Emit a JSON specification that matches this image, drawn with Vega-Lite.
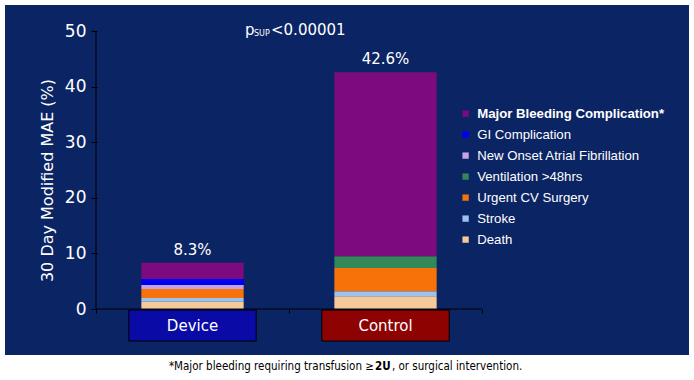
{
  "$schema": "https://vega.github.io/schema/vega-lite/v6.json",
  "width": 684,
  "height": 350,
  "background": "white",
  "config": {
    "view": {"fill": "#0B2463", "stroke": null},
    "font": "DejaVu Sans"
  },
  "datasets": {
    "mae": [
      {"group": "Device", "cause": "Death", "rank": 1, "value": 1.3},
      {"group": "Device", "cause": "Stroke", "rank": 2, "value": 0.7},
      {"group": "Device", "cause": "Urgent CV Surgery", "rank": 3, "value": 1.6},
      {"group": "Device", "cause": "Ventilation >48hrs", "rank": 4, "value": 0},
      {"group": "Device", "cause": "New Onset Atrial Fibrillation", "rank": 5, "value": 0.7},
      {"group": "Device", "cause": "GI Complication", "rank": 6, "value": 1.1},
      {"group": "Device", "cause": "Major Bleeding Complication*", "rank": 7, "value": 2.9},
      {"group": "Control", "cause": "Death", "rank": 1, "value": 2.3},
      {"group": "Control", "cause": "Stroke", "rank": 2, "value": 0.9},
      {"group": "Control", "cause": "Urgent CV Surgery", "rank": 3, "value": 4.2},
      {"group": "Control", "cause": "Ventilation >48hrs", "rank": 4, "value": 2.1},
      {"group": "Control", "cause": "New Onset Atrial Fibrillation", "rank": 5, "value": 0},
      {"group": "Control", "cause": "GI Complication", "rank": 6, "value": 0},
      {"group": "Control", "cause": "Major Bleeding Complication*", "rank": 7, "value": 33.1}
    ],
    "totals": [
      {"group": "Device", "total": 8.3, "label": "8.3%"},
      {"group": "Control", "total": 42.6, "label": "42.6%"}
    ]
  },
  "encoding": {
    "x": {
      "field": "group",
      "type": "nominal",
      "sort": ["Device", "Control"],
      "scale": {"type": "band", "domain": ["Device", "Control"], "paddingInner": 0, "paddingOuter": 0.772, "align": 0.3054},
      "axis": {"title": null, "labels": false, "domain": false, "ticks": true, "tickBand": "extent", "tickSize": 4, "tickColor": "#000000", "offset": -46, "grid": false}
    }
  },
  "layer": [
    {
      "data": {"name": "mae"},
      "mark": {"type": "bar", "width": {"band": 0.53}},
      "encoding": {
        "y": {
          "field": "value",
          "type": "quantitative",
          "aggregate": "sum",
          "stack": "zero",
          "scale": {"domain": [-8.27, 54.68], "nice": false, "zero": false},
          "axis": {
            "values": [0, 10, 20, 30, 40, 50],
            "offset": -92,
            "domain": false,
            "grid": false,
            "tickSize": 6,
            "tickColor": "#000000",
            "labelColor": "white",
            "labelFontSize": 17,
            "labelPadding": 5,
            "title": "30 Day Modified MAE (%)",
            "titleColor": "white",
            "titleFontSize": 16,
            "titleFontWeight": "normal",
            "titlePadding": 9
          }
        },
        "color": {
          "field": "cause",
          "type": "nominal",
          "scale": {
            "domain": ["Major Bleeding Complication*", "GI Complication", "New Onset Atrial Fibrillation", "Ventilation >48hrs", "Urgent CV Surgery", "Stroke", "Death"],
            "range": ["#7E0A80", "#0000F0", "#C6A2E4", "#33885A", "#F8720A", "#9CC3EE", "#F6C99B"]
          },
          "legend": {
            "title": null,
            "orient": "none",
            "legendX": 454,
            "legendY": 102,
            "padding": 0,
            "symbolType": "square",
            "symbolSize": 40,
            "symbolStrokeWidth": 0,
            "labelColor": "white",
            "labelFont": "Liberation Sans",
            "labelFontSize": 13.2,
            "labelOffset": 5,
            "labelLimit": 400,
            "rowPadding": 7,
            "labelFontWeight": {"expr": "datum.value == 'Major Bleeding Complication*' ? 'bold' : 'normal'"}
          }
        },
        "order": {"field": "rank", "type": "quantitative", "sort": "ascending"}
      }
    },
    {
      "data": {"name": "totals"},
      "mark": {"type": "text", "color": "white", "fontSize": 15, "baseline": "bottom", "dy": -5},
      "encoding": {
        "y": {"field": "total", "type": "quantitative"},
        "text": {"field": "label"}
      }
    },
    {
      "data": {"name": "totals"},
      "mark": {"type": "bar", "width": {"band": 0.66}, "stroke": "#000000", "strokeWidth": 1},
      "encoding": {
        "y": {"datum": -0.18},
        "y2": {"datum": -5.76},
        "fill": {"condition": {"test": "datum.group == 'Device'", "value": "#0A0AA6"}, "value": "#8E0202"}
      }
    },
    {
      "data": {"name": "totals"},
      "mark": {"type": "text", "color": "white", "fontSize": 15, "baseline": "middle"},
      "encoding": {
        "y": {"datum": -3.0},
        "text": {"field": "group"}
      }
    },
    {
      "data": {"values": [{}]},
      "mark": {"type": "rule", "color": "#000000", "strokeWidth": 1},
      "encoding": {
        "x": {"datum": "Device", "bandPosition": 0},
        "y": {"datum": 0},
        "y2": {"datum": 50}
      }
    },
    {
      "data": {"values": [{}]},
      "mark": {"type": "rule", "color": "#000000", "strokeWidth": 1},
      "encoding": {
        "x": {"datum": "Device", "bandPosition": 0},
        "x2": {"datum": "Control", "bandPosition": 1},
        "y": {"datum": 0}
      }
    },
    {
      "data": {"values": [{"t": "p"}]},
      "mark": {"type": "text", "color": "white", "fontSize": 15, "align": "left", "baseline": "middle", "dx": -44},
      "encoding": {
        "x": {"datum": "Control", "bandPosition": 0},
        "y": {"datum": 50.2},
        "text": {"field": "t"}
      }
    },
    {
      "data": {"values": [{"t": "SUP"}]},
      "mark": {"type": "text", "color": "white", "fontSize": 8, "align": "left", "baseline": "middle", "dx": -35, "dy": 4},
      "encoding": {
        "x": {"datum": "Control", "bandPosition": 0},
        "y": {"datum": 50.2},
        "text": {"field": "t"}
      }
    },
    {
      "data": {"values": [{"t": "<0.00001"}]},
      "mark": {"type": "text", "color": "white", "fontSize": 15, "align": "left", "baseline": "middle", "dx": -18},
      "encoding": {
        "x": {"datum": "Control", "bandPosition": 0},
        "y": {"datum": 50.2},
        "text": {"field": "t"}
      }
    },
    {
      "data": {"values": [{"t": "*Major bleeding requiring transfusion ≥ "}]},
      "mark": {"type": "text", "color": "black", "font": "DejaVu Sans Condensed", "fontSize": 11.5, "align": "right", "baseline": "middle"},
      "encoding": {
        "x": {"datum": "Control", "bandPosition": 0.44},
        "y": {"datum": -10.43},
        "text": {"field": "t"}
      }
    },
    {
      "data": {"values": [{"t": "2U"}]},
      "mark": {"type": "text", "color": "black", "font": "DejaVu Sans Condensed", "fontSize": 11.5, "fontWeight": "bold", "align": "left", "baseline": "middle", "dx": 1},
      "encoding": {
        "x": {"datum": "Control", "bandPosition": 0.44},
        "y": {"datum": -10.43},
        "text": {"field": "t"}
      }
    },
    {
      "data": {"values": [{"t": ", or surgical intervention."}]},
      "mark": {"type": "text", "color": "black", "font": "DejaVu Sans Condensed", "fontSize": 11.5, "align": "left", "baseline": "middle", "dx": 18},
      "encoding": {
        "x": {"datum": "Control", "bandPosition": 0.44},
        "y": {"datum": -10.43},
        "text": {"field": "t"}
      }
    }
  ]
}
